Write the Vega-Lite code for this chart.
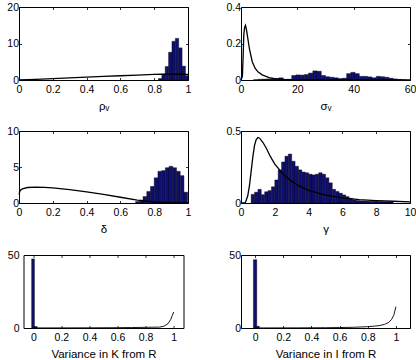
{
  "$schema": "https://vega.github.io/schema/vega-lite/v6.json",
  "padding": {"left": 6, "top": 1, "right": 0, "bottom": 0},
  "background": "white",
  "datasets": {
    "h1": [
      {"a": 0.825, "b": 0.845, "v": 0.4},
      {"a": 0.845, "b": 0.865, "v": 1.6},
      {"a": 0.865, "b": 0.885, "v": 3.7},
      {"a": 0.885, "b": 0.905, "v": 7.6},
      {"a": 0.905, "b": 0.925, "v": 10.6},
      {"a": 0.925, "b": 0.945, "v": 11.4},
      {"a": 0.945, "b": 0.965, "v": 8.8},
      {"a": 0.965, "b": 0.985, "v": 3.8},
      {"a": 0.985, "b": 1.0, "v": 1.2}
    ],
    "l1": [
      {"x": 0, "y": 0}, {"x": 0.05, "y": 0.08}, {"x": 0.1, "y": 0.18}, {"x": 0.2, "y": 0.38},
      {"x": 0.3, "y": 0.58}, {"x": 0.4, "y": 0.78}, {"x": 0.5, "y": 0.98}, {"x": 0.6, "y": 1.17},
      {"x": 0.7, "y": 1.36}, {"x": 0.8, "y": 1.52}, {"x": 0.85, "y": 1.58}, {"x": 0.9, "y": 1.6},
      {"x": 0.95, "y": 1.58}, {"x": 1.0, "y": 1.55}
    ],
    "h2": [
      {"a": 4.5, "b": 6, "v": 0.002}, {"a": 6, "b": 7.5, "v": 0.004}, {"a": 7.5, "b": 9, "v": 0.005},
      {"a": 9, "b": 10.5, "v": 0.006}, {"a": 10.5, "b": 12, "v": 0.007}, {"a": 12, "b": 13.5, "v": 0.008},
      {"a": 13.5, "b": 15, "v": 0.012}, {"a": 15, "b": 16.5, "v": 0.004}, {"a": 16.5, "b": 18, "v": 0.004},
      {"a": 18, "b": 19.5, "v": 0.025}, {"a": 19.5, "b": 21, "v": 0.028}, {"a": 21, "b": 22.5, "v": 0.027},
      {"a": 22.5, "b": 24, "v": 0.03}, {"a": 24, "b": 25.5, "v": 0.038}, {"a": 25.5, "b": 27, "v": 0.05},
      {"a": 27, "b": 28.5, "v": 0.048}, {"a": 28.5, "b": 30, "v": 0.025}, {"a": 30, "b": 31.5, "v": 0.018},
      {"a": 31.5, "b": 33, "v": 0.015}, {"a": 33, "b": 34.5, "v": 0.012}, {"a": 34.5, "b": 36, "v": 0.008},
      {"a": 36, "b": 37.5, "v": 0.01}, {"a": 37.5, "b": 39, "v": 0.035}, {"a": 39, "b": 40.5, "v": 0.042},
      {"a": 40.5, "b": 42, "v": 0.035}, {"a": 42, "b": 43.5, "v": 0.02}, {"a": 43.5, "b": 45, "v": 0.02},
      {"a": 45, "b": 46.5, "v": 0.017}, {"a": 46.5, "b": 48, "v": 0.012}, {"a": 48, "b": 49.5, "v": 0.02},
      {"a": 49.5, "b": 51, "v": 0.018}, {"a": 51, "b": 52.5, "v": 0.015}, {"a": 52.5, "b": 54, "v": 0.01},
      {"a": 54, "b": 55.5, "v": 0.006}, {"a": 55.5, "b": 57, "v": 0.003}, {"a": 57, "b": 58.5, "v": 0.001}
    ],
    "l2": [
      {"x": 0, "y": 0}, {"x": 0.5, "y": 0.02}, {"x": 0.8, "y": 0.15}, {"x": 1.0, "y": 0.25},
      {"x": 1.3, "y": 0.29}, {"x": 1.6, "y": 0.3}, {"x": 2.0, "y": 0.27}, {"x": 2.5, "y": 0.22},
      {"x": 3, "y": 0.17}, {"x": 4, "y": 0.1}, {"x": 5, "y": 0.065}, {"x": 6, "y": 0.045},
      {"x": 7.5, "y": 0.028}, {"x": 10, "y": 0.013}, {"x": 12, "y": 0.007}, {"x": 15, "y": 0.003},
      {"x": 20, "y": 0.001}, {"x": 30, "y": 0}, {"x": 60, "y": 0}
    ],
    "h3": [
      {"a": 0.690, "b": 0.712, "v": 0.2}, {"a": 0.712, "b": 0.734, "v": 0.4}, {"a": 0.734, "b": 0.756, "v": 0.9},
      {"a": 0.756, "b": 0.778, "v": 1.6}, {"a": 0.778, "b": 0.800, "v": 2.3}, {"a": 0.800, "b": 0.822, "v": 3.5},
      {"a": 0.822, "b": 0.844, "v": 4.4}, {"a": 0.844, "b": 0.866, "v": 4.5}, {"a": 0.866, "b": 0.888, "v": 4.9},
      {"a": 0.888, "b": 0.910, "v": 5.1}, {"a": 0.910, "b": 0.932, "v": 4.9}, {"a": 0.932, "b": 0.954, "v": 4.4},
      {"a": 0.954, "b": 0.976, "v": 3.8}, {"a": 0.976, "b": 0.998, "v": 1.5}
    ],
    "l3": [
      {"x": 0, "y": 1.2}, {"x": 0.005, "y": 1.6}, {"x": 0.01, "y": 1.8}, {"x": 0.02, "y": 1.95},
      {"x": 0.05, "y": 2.15}, {"x": 0.1, "y": 2.2}, {"x": 0.15, "y": 2.18}, {"x": 0.2, "y": 2.1},
      {"x": 0.3, "y": 1.85}, {"x": 0.4, "y": 1.55}, {"x": 0.5, "y": 1.2}, {"x": 0.6, "y": 0.8},
      {"x": 0.7, "y": 0.4}, {"x": 0.8, "y": 0.15}, {"x": 0.9, "y": 0.03}, {"x": 1.0, "y": 0}
    ],
    "h4": [
      {"a": 0.6, "b": 0.8, "v": 0.06}, {"a": 0.8, "b": 1.0, "v": 0.075}, {"a": 1.0, "b": 1.2, "v": 0.095},
      {"a": 1.2, "b": 1.4, "v": 0.058}, {"a": 1.4, "b": 1.6, "v": 0.078}, {"a": 1.6, "b": 1.8, "v": 0.086},
      {"a": 1.8, "b": 2.0, "v": 0.112}, {"a": 2.0, "b": 2.2, "v": 0.16}, {"a": 2.2, "b": 2.4, "v": 0.23},
      {"a": 2.4, "b": 2.6, "v": 0.285}, {"a": 2.6, "b": 2.8, "v": 0.325}, {"a": 2.8, "b": 3.0, "v": 0.34},
      {"a": 3.0, "b": 3.2, "v": 0.29}, {"a": 3.2, "b": 3.4, "v": 0.255}, {"a": 3.4, "b": 3.6, "v": 0.23},
      {"a": 3.6, "b": 3.8, "v": 0.215}, {"a": 3.8, "b": 4.0, "v": 0.21}, {"a": 4.0, "b": 4.2, "v": 0.2},
      {"a": 4.2, "b": 4.4, "v": 0.195}, {"a": 4.4, "b": 4.6, "v": 0.2}, {"a": 4.6, "b": 4.8, "v": 0.21},
      {"a": 4.8, "b": 5.0, "v": 0.2}, {"a": 5.0, "b": 5.2, "v": 0.175}, {"a": 5.2, "b": 5.4, "v": 0.14},
      {"a": 5.4, "b": 5.6, "v": 0.095}, {"a": 5.6, "b": 5.8, "v": 0.08}, {"a": 5.8, "b": 6.0, "v": 0.068},
      {"a": 6.0, "b": 6.2, "v": 0.056}, {"a": 6.2, "b": 6.4, "v": 0.044}, {"a": 6.4, "b": 6.6, "v": 0.032},
      {"a": 6.6, "b": 6.8, "v": 0.022}, {"a": 6.8, "b": 7.0, "v": 0.017}, {"a": 7.0, "b": 7.2, "v": 0.015},
      {"a": 7.2, "b": 7.4, "v": 0.014}, {"a": 7.4, "b": 7.6, "v": 0.013}, {"a": 7.6, "b": 7.8, "v": 0.012},
      {"a": 7.8, "b": 8.0, "v": 0.012}, {"a": 8.0, "b": 8.2, "v": 0.011}, {"a": 8.2, "b": 8.4, "v": 0.01},
      {"a": 8.4, "b": 8.6, "v": 0.009}, {"a": 8.6, "b": 8.8, "v": 0.008}, {"a": 8.8, "b": 9.0, "v": 0.007}
    ],
    "l4": [
      {"x": 0, "y": 0}, {"x": 0.25, "y": 0}, {"x": 0.4, "y": 0.05}, {"x": 0.5, "y": 0.12},
      {"x": 0.6, "y": 0.22}, {"x": 0.7, "y": 0.32}, {"x": 0.8, "y": 0.4}, {"x": 0.9, "y": 0.44},
      {"x": 1.0, "y": 0.455}, {"x": 1.1, "y": 0.45}, {"x": 1.3, "y": 0.42}, {"x": 1.5, "y": 0.38},
      {"x": 1.75, "y": 0.32}, {"x": 2, "y": 0.27}, {"x": 2.5, "y": 0.2}, {"x": 3, "y": 0.15},
      {"x": 3.5, "y": 0.115}, {"x": 4, "y": 0.088}, {"x": 5, "y": 0.055}, {"x": 6, "y": 0.036},
      {"x": 7, "y": 0.024}, {"x": 8, "y": 0.017}, {"x": 9, "y": 0.012}, {"x": 10, "y": 0.008}
    ],
    "h5": [
      {"a": -0.012, "b": 0.008, "v": 47.3}, {"a": 0.008, "b": 0.028, "v": 1.0}
    ],
    "l5": [
      {"x": 0, "y": 0.05}, {"x": 0.2, "y": 0.08}, {"x": 0.4, "y": 0.12}, {"x": 0.6, "y": 0.22},
      {"x": 0.7, "y": 0.32}, {"x": 0.8, "y": 0.45}, {"x": 0.9, "y": 0.6}, {"x": 0.93, "y": 1.2},
      {"x": 0.96, "y": 3}, {"x": 0.98, "y": 6}, {"x": 0.99, "y": 8.5}, {"x": 1.0, "y": 11}
    ],
    "h6": [
      {"a": -0.012, "b": 0.012, "v": 46.8}, {"a": 0.012, "b": 0.03, "v": 1.2}
    ],
    "l6": [
      {"x": 0, "y": 0.05}, {"x": 0.3, "y": 0.1}, {"x": 0.5, "y": 0.2}, {"x": 0.6, "y": 0.3},
      {"x": 0.7, "y": 0.5}, {"x": 0.8, "y": 0.9}, {"x": 0.85, "y": 1.3}, {"x": 0.88, "y": 1.6},
      {"x": 0.92, "y": 2.5}, {"x": 0.95, "y": 3.9}, {"x": 0.97, "y": 6}, {"x": 0.985, "y": 8.8},
      {"x": 1.0, "y": 14.6}
    ]
  },
  "columns": 2,
  "bounds": "flush",
  "align": "all",
  "center": true,
  "spacing": {"column": 53, "row": 51},
  "concat": [
    {
      "width": 169, "height": 73,
      "layer": [
        {"data": {"name": "h1"}, "mark": {"type": "bar", "fill": "#0f0f6e", "stroke": "#000000", "strokeWidth": 0.4},
         "encoding": {
           "x": {"field": "a", "type": "quantitative", "scale": {"domain": [0, 1], "nice": false, "zero": false}, "axis": {"orient": "bottom", "title": "ρᵥ", "values": [0, 0.2, 0.4, 0.6, 0.8, 1], "format": ".3~r"}},
           "x2": {"field": "b"},
           "y": {"field": "v", "type": "quantitative", "scale": {"domain": [0, 20], "nice": false}, "axis": {"orient": "left", "title": null, "values": [0, 10, 20], "format": ".3~r"}},
           "y2": {"datum": 0}
         }},
        {"data": {"name": "l1"}, "mark": {"type": "line", "color": "black", "strokeWidth": 1.3},
         "encoding": {
           "x": {"field": "x", "type": "quantitative", "axis": {"orient": "top", "labels": false, "title": null, "values": [0, 0.2, 0.4, 0.6, 0.8, 1]}},
           "y": {"field": "y", "type": "quantitative", "axis": {"orient": "right", "labels": false, "title": null, "values": [0, 10, 20]}}
         }}
      ],
      "resolve": {"axis": {"x": "independent", "y": "independent"}}
    },
    {
      "width": 169, "height": 73,
      "layer": [
        {"data": {"name": "h2"}, "mark": {"type": "bar", "fill": "#0f0f6e", "stroke": "#000000", "strokeWidth": 0.4},
         "encoding": {
           "x": {"field": "a", "type": "quantitative", "scale": {"domain": [0, 60], "nice": false, "zero": false}, "axis": {"orient": "bottom", "title": "σᵥ", "values": [0, 20, 40, 60], "format": ".3~r"}},
           "x2": {"field": "b"},
           "y": {"field": "v", "type": "quantitative", "scale": {"domain": [0, 0.4], "nice": false}, "axis": {"orient": "left", "title": null, "values": [0, 0.2, 0.4], "format": ".3~r"}},
           "y2": {"datum": 0}
         }},
        {"data": {"name": "l2"}, "mark": {"type": "line", "color": "black", "strokeWidth": 1.3},
         "encoding": {
           "x": {"field": "x", "type": "quantitative", "axis": {"orient": "top", "labels": false, "title": null, "values": [0, 20, 40, 60]}},
           "y": {"field": "y", "type": "quantitative", "axis": {"orient": "right", "labels": false, "title": null, "values": [0, 0.2, 0.4]}}
         }}
      ],
      "resolve": {"axis": {"x": "independent", "y": "independent"}}
    },
    {
      "width": 169, "height": 72,
      "layer": [
        {"data": {"name": "h3"}, "mark": {"type": "bar", "fill": "#0f0f6e", "stroke": "#000000", "strokeWidth": 0.4},
         "encoding": {
           "x": {"field": "a", "type": "quantitative", "scale": {"domain": [0, 1], "nice": false, "zero": false}, "axis": {"orient": "bottom", "title": "δ", "values": [0, 0.2, 0.4, 0.6, 0.8, 1], "format": ".3~r"}},
           "x2": {"field": "b"},
           "y": {"field": "v", "type": "quantitative", "scale": {"domain": [0, 10], "nice": false}, "axis": {"orient": "left", "title": null, "values": [0, 5, 10], "format": ".3~r"}},
           "y2": {"datum": 0}
         }},
        {"data": {"name": "l3"}, "mark": {"type": "line", "color": "black", "strokeWidth": 1.3},
         "encoding": {
           "x": {"field": "x", "type": "quantitative", "axis": {"orient": "top", "labels": false, "title": null, "values": [0, 0.2, 0.4, 0.6, 0.8, 1]}},
           "y": {"field": "y", "type": "quantitative", "axis": {"orient": "right", "labels": false, "title": null, "values": [0, 5, 10]}}
         }}
      ],
      "resolve": {"axis": {"x": "independent", "y": "independent"}}
    },
    {
      "width": 169, "height": 72,
      "layer": [
        {"data": {"name": "h4"}, "mark": {"type": "bar", "fill": "#0f0f6e", "stroke": "#000000", "strokeWidth": 0.4},
         "encoding": {
           "x": {"field": "a", "type": "quantitative", "scale": {"domain": [0, 10], "nice": false, "zero": false}, "axis": {"orient": "bottom", "title": "γ", "values": [0, 2, 4, 6, 8, 10], "format": ".3~r"}},
           "x2": {"field": "b"},
           "y": {"field": "v", "type": "quantitative", "scale": {"domain": [0, 0.5], "nice": false}, "axis": {"orient": "left", "title": null, "values": [0, 0.5], "format": ".3~r"}},
           "y2": {"datum": 0}
         }},
        {"data": {"name": "l4"}, "mark": {"type": "line", "color": "black", "strokeWidth": 1.3},
         "encoding": {
           "x": {"field": "x", "type": "quantitative", "axis": {"orient": "top", "labels": false, "title": null, "values": [0, 2, 4, 6, 8, 10]}},
           "y": {"field": "y", "type": "quantitative", "axis": {"orient": "right", "labels": false, "title": null, "values": [0, 0.5]}}
         }}
      ],
      "resolve": {"axis": {"x": "independent", "y": "independent"}}
    },
    {
      "width": 160, "height": 73,
      "layer": [
        {"data": {"name": "h5"}, "mark": {"type": "bar", "fill": "#0f0f6e", "stroke": "#000000", "strokeWidth": 0.4},
         "encoding": {
           "x": {"field": "a", "type": "quantitative", "scale": {"domain": [-0.07, 1.07], "nice": false, "zero": false}, "axis": {"orient": "bottom", "title": "Variance in K from R", "values": [0, 0.2, 0.4, 0.6, 0.8, 1], "format": ".3~r"}},
           "x2": {"field": "b"},
           "y": {"field": "v", "type": "quantitative", "scale": {"domain": [0, 50], "nice": false}, "axis": {"orient": "left", "title": null, "values": [0, 50], "format": ".3~r", "labelPadding": 7}},
           "y2": {"datum": 0}
         }},
        {"data": {"name": "l5"}, "mark": {"type": "line", "color": "black", "strokeWidth": 0.9},
         "encoding": {
           "x": {"field": "x", "type": "quantitative", "axis": {"orient": "top", "labels": false, "title": null, "values": [0, 0.2, 0.4, 0.6, 0.8, 1]}},
           "y": {"field": "y", "type": "quantitative", "axis": {"orient": "right", "labels": false, "title": null, "values": [0, 50]}}
         }}
      ],
      "resolve": {"axis": {"x": "independent", "y": "independent"}}
    },
    {
      "width": 169, "height": 73,
      "layer": [
        {"data": {"name": "h6"}, "mark": {"type": "bar", "fill": "#0f0f6e", "stroke": "#000000", "strokeWidth": 0.4},
         "encoding": {
           "x": {"field": "a", "type": "quantitative", "scale": {"domain": [-0.1, 1.1], "nice": false, "zero": false}, "axis": {"orient": "bottom", "title": "Variance in I from R", "values": [0, 0.2, 0.4, 0.6, 0.8, 1], "format": ".3~r"}},
           "x2": {"field": "b"},
           "y": {"field": "v", "type": "quantitative", "scale": {"domain": [0, 50], "nice": false}, "axis": {"orient": "left", "title": null, "values": [0, 50], "format": ".3~r"}},
           "y2": {"datum": 0}
         }},
        {"data": {"name": "l6"}, "mark": {"type": "line", "color": "black", "strokeWidth": 0.9},
         "encoding": {
           "x": {"field": "x", "type": "quantitative", "axis": {"orient": "top", "labels": false, "title": null, "values": [0, 0.2, 0.4, 0.6, 0.8, 1]}},
           "y": {"field": "y", "type": "quantitative", "axis": {"orient": "right", "labels": false, "title": null, "values": [0, 50]}}
         }}
      ],
      "resolve": {"axis": {"x": "independent", "y": "independent"}}
    }
  ],
  "config": {
    "view": {"stroke": "black", "strokeWidth": 1},
    "axis": {
      "domain": false, "grid": false, "tickSize": -2.5, "tickColor": "black", "tickWidth": 0.8,
      "labelFont": "Liberation Sans", "labelFontSize": 10.5, "labelColor": "black",
      "labelFlush": false, "labelOverlap": false, "minExtent": 0,
      "titleFont": "Liberation Sans", "titleFontSize": 11.5, "titleFontWeight": "normal", "titleColor": "black", "titlePadding": 5
    },
    "axisX": {"labelPadding": 7, "minExtent": 0},
    "axisY": {"labelPadding": 3, "minExtent": 0}
  }
}
